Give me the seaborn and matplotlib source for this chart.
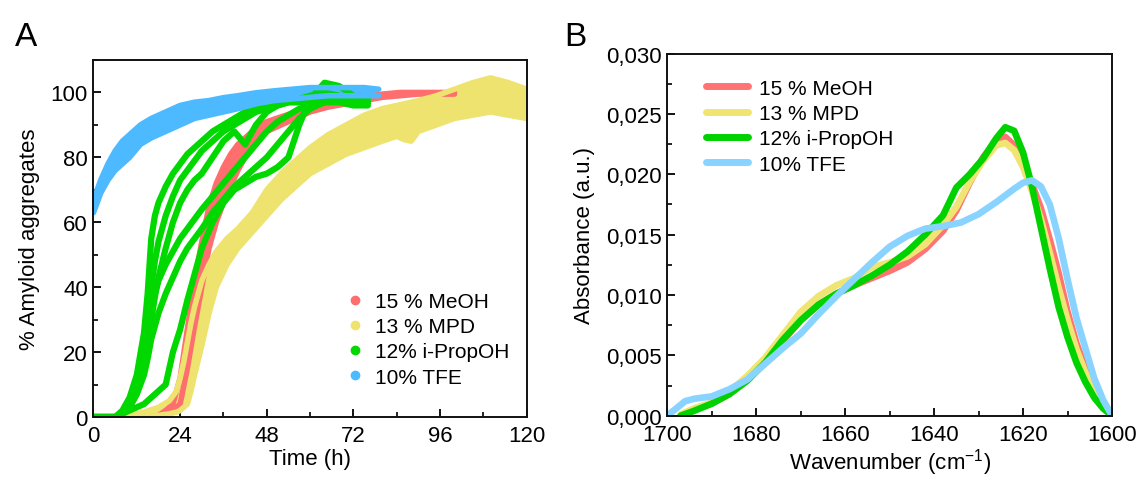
import matplotlib
matplotlib.use("Agg")
import matplotlib.pyplot as plt
import seaborn as sns
from matplotlib.lines import Line2D
from matplotlib.ticker import MultipleLocator, FuncFormatter

# ---------------- data: panel A (kinetics) ----------------
labels = ["15 % MeOH", "13 % MPD", "12% i-PropOH", "10% TFE"]
colors_a = ["#FF6E6E", "#EEE36E", "#00D800", "#4DBAFF"]
colors_b = ["#FF7373", "#F0E473", "#00D200", "#88D3FF"]

t_meoh = [0, 16, 18, 20, 22, 24, 26, 28, 30, 32, 34, 36, 38, 40, 42, 44, 46, 48,
          52, 56, 60, 65, 70, 75, 80, 85, 90, 95, 100]
meoh_early = [0, 0, 0.5, 2, 4, 12, 27, 42, 54, 65, 72, 77, 81, 84, 86, 88, 89.5, 91,
              92.5, 94, 95, 96.5, 97.5, 98.5, 99.5, 100, 100, 100, 100]
meoh_late = [0, 0, 0, 0.5, 2, 4, 15, 28, 40, 52, 60, 66, 71, 76, 80, 83, 86, 88,
             90, 92, 94, 95.5, 96.5, 97.5, 98.5, 99, 99.5, 99.5, 99.5]

t_mpd = [0, 6, 10, 14, 18, 21, 23, 24, 25, 26, 27, 28, 30, 32, 34, 37, 40, 44, 48,
         52, 56, 60, 65, 70, 75, 80, 84, 86, 88, 90, 95, 100, 105, 110, 115, 120]
mpd_upper = [0, 0, 0.5, 1.5, 3, 5, 8, 12, 17, 23, 29, 34, 42, 47, 51, 55, 58, 63, 70,
             75, 79, 83, 87, 90, 93, 95, 96, 96.5, 97, 97.5, 99, 101, 103, 104.5, 103, 101]
mpd_lower = [0, 0, 0, 0, 0.5, 1, 1.5, 2, 3, 4, 8, 13, 22, 32, 40, 47, 52, 57, 62,
             67, 71, 75, 78, 81, 83, 85, 86.5, 85.5, 85, 88, 90, 92, 93, 94, 93, 92]

t_prop = [0, 6, 8, 10, 12, 14, 15, 16, 17, 18, 20, 22, 24, 26, 28, 30, 33, 36, 39,
          42, 45, 48, 51, 54, 57, 60, 64, 68, 72, 76]
prop_rep1 = [0, 0, 2, 6, 13, 26, 38, 55, 62, 66, 71, 75, 78, 81, 83, 85, 88, 90, 92,
             94, 95, 96, 97, 97, 97, 97, 97, 97, 96, 96]
prop_rep2 = [0, 0, 1, 4, 10, 20, 30, 40, 48, 54, 62, 68, 73, 76, 79, 82, 85, 88, 90,
             92, 94, 95, 96, 97, 97, 98, 98, 98, 97, 97]
prop_rep3 = [0, 0, 1, 3, 8, 15, 22, 30, 37, 43, 52, 60, 66, 70, 73, 75, 80, 85, 88,
             84, 90, 94, 96, 97, 98, 99, 100, 99, 98, 97]
prop_rep4 = [0, 0, 1, 3, 7, 13, 18, 24, 28, 32, 38, 43, 48, 52, 55, 58, 63, 67, 71,
             74, 77, 80, 84, 88, 92, 95, 97, 98, 98, 97]
prop_rep5 = [0, 0, 1, 3, 8, 16, 24, 32, 38, 42, 47, 51, 55, 58, 61, 64, 68, 72, 76,
             80, 84, 88, 91, 93, 95, 96, 97, 98, 98, 97]
prop_rep6 = [0, 0, 1, 2, 3, 4, 5, 6, 7, 8, 10, 20, 27, 36, 44, 52, 60, 66, 70,
             72, 74, 75, 77, 80, 90, 98, 103, 102, 99, 98]

t_tfe = [0, 1, 2, 4, 6, 8, 10, 13, 16, 20, 24, 28, 32, 36, 40, 45, 50, 55, 60, 65,
         70, 75, 79]
tfe_upper = [65, 70, 73, 78, 82, 85, 87, 90, 92, 94, 96, 97, 97.5, 98.4, 99, 99.9,
             100.5, 101, 101.5, 101.5, 101.5, 101.5, 101]
tfe_lower = [63, 66, 69, 73, 76, 78, 80, 84, 86, 88, 90, 92, 93, 94, 95, 96.5,
             97.5, 98, 98.5, 99, 99, 99, 99]

time_ticks = [0, 24, 48, 72, 96, 120]
pct_ticks = [0, 20, 40, 60, 80, 100]

# ---------------- data: panel B (FTIR) ----------------
wn = [1697, 1694, 1690, 1686, 1682, 1678, 1674, 1670, 1666, 1662, 1658, 1654, 1650,
      1646, 1642, 1638, 1635, 1632, 1629, 1626, 1624, 1622, 1620, 1618, 1616, 1614,
      1612, 1610, 1608, 1606, 1604, 1602, 1600]
abs_meoh = [0.0000, 0.0005, 0.0010, 0.0018, 0.0030, 0.0044, 0.0062, 0.0079, 0.0092,
            0.0101, 0.0108, 0.0114, 0.0120, 0.0127, 0.0138, 0.0153, 0.0170, 0.0193,
            0.0214, 0.0228, 0.0231, 0.0224, 0.0209, 0.0192, 0.0172, 0.0146, 0.0118,
            0.0086, 0.0060, 0.0040, 0.0023, 0.0010, 0.0000]
abs_mpd = [0.0001, 0.0006, 0.0011, 0.0020, 0.0033, 0.0048, 0.0067, 0.0086, 0.0099,
           0.0108, 0.0114, 0.0123, 0.0127, 0.0132, 0.0142, 0.0158, 0.0173, 0.0194,
           0.0211, 0.0224, 0.0226, 0.0220, 0.0206, 0.0186, 0.0163, 0.0135, 0.0106,
           0.0079, 0.0055, 0.0036, 0.0021, 0.0009, 0.0000]
abs_prop = [0.0000, 0.0004, 0.0010, 0.0018, 0.0029, 0.0044, 0.0063, 0.0079, 0.0092,
            0.0101, 0.0108, 0.0116, 0.0125, 0.0136, 0.0150, 0.0166, 0.0189, 0.0200,
            0.0213, 0.0230, 0.0239, 0.0236, 0.0218, 0.0190, 0.0156, 0.0122, 0.0090,
            0.0065, 0.0044, 0.0028, 0.0015, 0.0006, 0.0000]
wn_tfe = [1700, 1698, 1696, 1694, 1690, 1686, 1682, 1678, 1674, 1670, 1666, 1662,
          1658, 1654, 1650, 1646, 1642, 1638, 1634, 1630, 1626, 1622, 1620, 1618,
          1616, 1614, 1612, 1610, 1608, 1606, 1604, 1602, 1600]
abs_tfe = [0.0000, 0.0006, 0.0012, 0.0014, 0.0016, 0.0022, 0.0030, 0.0043, 0.0056,
           0.0068, 0.0084, 0.0099, 0.0113, 0.0127, 0.0140, 0.0149, 0.0155, 0.0157,
           0.0160, 0.0167, 0.0177, 0.0188, 0.0193, 0.0195, 0.0190, 0.0175, 0.0147,
           0.0113, 0.0081, 0.0056, 0.0031, 0.0013, 0.0000]

wn_ticks = [1700, 1680, 1660, 1640, 1620, 1600]
abs_ticks = [0.000, 0.005, 0.010, 0.015, 0.020, 0.025, 0.030]

# ---------------- style ----------------
sns.set_theme(style="ticks")
plt.rcParams["font.family"] = ["Liberation Sans", "DejaVu Sans"]
plt.rcParams["mathtext.fontset"] = "custom"
plt.rcParams["mathtext.rm"] = "Liberation Sans"
plt.rcParams["mathtext.it"] = "Liberation Sans"
plt.rcParams["axes.linewidth"] = 1.4
plt.rcParams["axes.edgecolor"] = "#111111"
plt.rcParams["text.color"] = "black"
plt.rcParams["axes.labelcolor"] = "black"
plt.rcParams["xtick.color"] = "black"
plt.rcParams["ytick.color"] = "black"

fig = plt.figure(figsize=(11.43, 4.85), dpi=100)
axA = fig.add_axes([0.0818, 0.1381, 0.3790, 0.7361])
axB = fig.add_axes([0.5838, 0.1408, 0.3891, 0.7466])

# ---- Panel A ----
axA.fill_between(t_meoh, meoh_late, meoh_early, color=colors_a[0], lw=0)
for y in (meoh_early, meoh_late):
    sns.lineplot(x=t_meoh, y=y, ax=axA, color=colors_a[0], lw=4, sort=False,
                 solid_joinstyle="round")
axA.fill_between(t_mpd, mpd_lower, mpd_upper, color=colors_a[1], lw=0)
for y in (mpd_upper, mpd_lower):
    sns.lineplot(x=t_mpd, y=y, ax=axA, color=colors_a[1], lw=4, sort=False,
                 solid_joinstyle="round")
for y in (prop_rep1, prop_rep2, prop_rep3, prop_rep4, prop_rep5, prop_rep6):
    sns.lineplot(x=t_prop, y=y, ax=axA, color=colors_a[2], lw=4.5, sort=False,
                 solid_joinstyle="round", solid_capstyle="round")
axA.fill_between(t_tfe, tfe_lower, tfe_upper, color=colors_a[3], lw=0)
for y in (tfe_upper, tfe_lower):
    sns.lineplot(x=t_tfe, y=y, ax=axA, color=colors_a[3], lw=4, sort=False,
                 solid_joinstyle="round", solid_capstyle="round")

axA.set_xlim(0, 120)
axA.set_ylim(0, 110)
axA.set_xticks(time_ticks)
axA.set_yticks(pct_ticks)
axA.xaxis.set_minor_locator(MultipleLocator(12))
axA.yaxis.set_minor_locator(MultipleLocator(10))
axA.set_xlabel("Time (h)", fontsize=16, labelpad=1)
axA.set_ylabel("% Amyloid aggregates", fontsize=16, labelpad=8)

handlesA = [Line2D([], [], marker="o", ls="", color=c, markersize=6) for c in colors_a]
axA.legend(handlesA, labels, loc="lower right", bbox_to_anchor=(0.99, 0.05),
           frameon=False, fontsize=15, handletextpad=0.0, labelspacing=0.3,
           borderaxespad=0.2)

# ---- Panel B ----
for x, y, c in ((wn, abs_meoh, colors_b[0]), (wn, abs_mpd, colors_b[1]),
                (wn, abs_prop, colors_b[2]), (wn_tfe, abs_tfe, colors_b[3])):
    sns.lineplot(x=x, y=y, ax=axB, color=c, lw=4.8, sort=False,
                 solid_capstyle="round", solid_joinstyle="round")

axB.set_xlim(1700, 1600)
axB.set_ylim(0, 0.030)
axB.set_xticks(wn_ticks)
axB.set_yticks(abs_ticks)
axB.xaxis.set_minor_locator(MultipleLocator(10))
axB.yaxis.set_minor_locator(MultipleLocator(0.0025))
axB.yaxis.set_major_formatter(FuncFormatter(lambda v, p: f"{v:.3f}".replace(".", ",")))
axB.set_xlabel("Wavenumber (cm$^{\\mathregular{-1}}$)", fontsize=16, labelpad=1)
axB.set_ylabel("Absorbance (a.u.)", fontsize=16, labelpad=8)

handlesB = [Line2D([], [], color=c, lw=5, solid_capstyle="round") for c in colors_b]
axB.legend(handlesB, labels, loc="upper left", bbox_to_anchor=(0.06, 0.965),
           frameon=False, fontsize=15, handlelength=2.0, handletextpad=0.5,
           labelspacing=0.3, borderaxespad=0.2)

for ax in (axA, axB):
    for s in ax.spines.values():
        s.set_visible(True)
        s.set_linewidth(1.4)
    ax.tick_params(which="major", direction="in", length=6, width=1.3,
                   labelsize=16, top=False, right=False)
    ax.tick_params(axis="x", which="major", pad=6)
    ax.tick_params(axis="y", which="major", pad=4)
    ax.tick_params(which="minor", direction="in", length=3.5, width=1.2,
                   top=False, right=False)

fig.text(0.013, 0.905, "A", fontsize=24)
fig.text(0.494, 0.905, "B", fontsize=24)

fig.savefig("out.png", dpi=100)
